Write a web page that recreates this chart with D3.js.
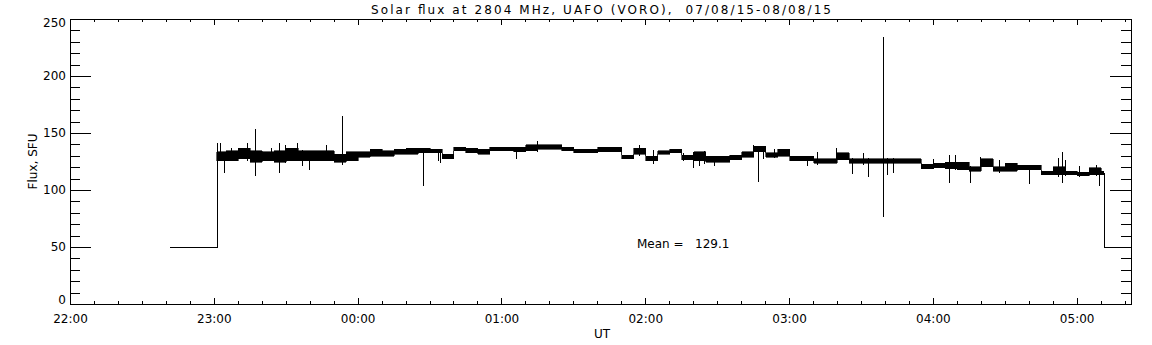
<!DOCTYPE html>
<html><head><meta charset="utf-8">
<script src="https://cdn.jsdelivr.net/npm/d3@7"></script>
<style>
html,body{margin:0;padding:0;background:#fff;}
svg{display:block;font-family:"DejaVu Sans",sans-serif;}
text{fill:#000;font-size:12px;white-space:pre;}
</style></head><body>
<svg id="chart" width="1152" height="345"></svg>
<script>
const titleText = "Solar flux at 2804 MHz, UAFO (VORO),  07/08/15-08/08/15";
const xLabel = "UT";
const yLabel = "Flux, SFU";
const xDomain = ["22:00", "05:22:40"];
const yDomain = [0, 250];
const xTickLabels = ["22:00","23:00","00:00","01:00","02:00","03:00","04:00","05:00"];
const yTickValues = [0, 50, 100, 150, 200, 250];
const meanValue = 129.1;

// flux envelope (upper / lower edge of the noisy trace), SFU
const times = ["23:01","23:05","23:10","23:15","23:20","23:25","23:30","23:35","23:40","23:45","23:50","23:55",
  "00:00","00:05","00:10","00:15","00:20","00:25","00:30","00:35","00:40","00:45","00:50","00:55",
  "01:00","01:05","01:10","01:15","01:20","01:25","01:30","01:35","01:40","01:45","01:50","01:55",
  "02:00","02:05","02:10","02:15","02:20","02:25","02:30","02:35","02:40","02:45","02:50","02:55",
  "03:00","03:05","03:10","03:15","03:20","03:25","03:30","03:35","03:40","03:45","03:50","03:55",
  "04:00","04:05","04:10","04:15","04:20","04:25","04:30","04:35","04:40","04:45","04:50","04:55",
  "05:00","05:05","05:10","05:11"];
const fluxHigh = [134,135,137,135,134,135,137,135,135,135,132,134,
  134,136,135,136,137,137,136,132,138,137,136,138,
  138,138,140,140,140,138,136,136,138,138,131,137,
  130,135,136,131,134,130,130,131,134,139,133,136,
  130,130,128,128,133,128,128,128,128,128,128,123,
  124,125,125,121,128,121,124,122,122,117,121,117,
  116,120,117,116];
const fluxLow = [126,126,128,125,126,125,126,126,126,126,125,126,
  129,130,130,132,132,133,133,128,135,133,132,135,
  135,134,135,136,136,135,133,133,134,134,128,132,
  126,132,133,127,126,125,125,127,129,134,129,130,
  126,126,124,124,127,124,124,124,124,124,124,119,
  120,119,118,117,121,117,117,118,118,114,114,114,
  113,114,114,114];

// individual spikes (vertical excursions), SFU
const spikeTimes = ["23:01:15","23:02:40","23:04:25","23:07:10","23:13:40","23:17:20","23:23:55","23:27:20","23:29:50",
  "23:34:30","23:37:00","23:39:50","23:46:50","23:53:40","00:27:05","00:33:30","00:34:30","01:06:00","01:14:40",
  "01:57:30","02:03:05","02:15:35","02:20:00","02:22:30","02:24:35","02:28:50","02:44:50","02:46:55","02:49:10",
  "02:53:50","03:07:40","03:11:35","03:19:30","03:26:10","03:30:40","03:32:50","03:39:00","03:40:40","03:43:30",
  "03:59:55","04:06:50","04:09:20","04:15:35","04:19:50","04:27:40","04:40:10","04:52:20","04:53:55","04:55:00",
  "05:01:05","05:08:00","05:09:25","05:11:20"];
const spikeLow = [50,126,116,127,126,113,126,116,125,126,122,118,126,123,104,126,125,128,134,
  131,124,126,120,122,124,122,132,108,128,129,122,123,125,115,123,112,77,114,116,
  119,107,118,107,120,116,106,112,107,113,112,113,104,50];
const spikeHigh = [142,142,134,138,142,154,138,142,140,142,136,135,140,166,133,135,133,139,144,
  140,136,133,134,133,135,131,140,134,138,137,130,134,138,129,133,129,235,129,129,
  128,132,132,122,130,127,123,129,134,127,122,123,118,116];

// flagged (no data) level before and after the observation
const gapTimes = ["22:41:25","23:01:15","05:11:20","05:22:40"];
const gapValues = [50, 50, 50, 50];

function parseUT(s){
  const p = s.split(":").map(Number);
  const h = p[0], m = p[1], sec = p[2] || 0;
  return new Date(Date.UTC(2015, 7, h >= 12 ? 7 : 8, h, m, sec));
}

const svg = d3.select("#chart");
const L = 70, R = 1131, T = 19, B = 304;
const x = d3.scaleUtc().domain(xDomain.map(parseUT)).range([L, R]);
const y = d3.scaleLinear().domain(yDomain).range([B, T]);

const g = svg.append("g").attr("transform", "translate(0.5,0.5)");

// gap segments
const gapPts = gapTimes.map((t, i) => [parseUT(t), gapValues[i]]);
const ln = d3.line().x(d => Math.round(x(d[0]))).y(d => Math.round(y(d[1])));
g.append("path").attr("d", ln(gapPts.slice(0, 2))).attr("fill", "none").attr("stroke", "#000").attr("shape-rendering", "crispEdges");
g.append("path").attr("d", ln(gapPts.slice(2, 4))).attr("fill", "none").attr("stroke", "#000").attr("shape-rendering", "crispEdges");

// envelope band
const band = times.map((t, i) => ({t: parseUT(t), hi: fluxHigh[i], lo: fluxLow[i]}));
const area = d3.area().x(d => x(d.t)).y0(d => y(d.lo)).y1(d => y(d.hi)).curve(d3.curveStepAfter);
g.append("path").attr("d", area(band)).attr("fill", "#000").attr("stroke", "#000").attr("stroke-width", 0.6)
  .attr("shape-rendering", "crispEdges");

// spikes
g.selectAll("line.spike").data(spikeTimes.map((t, i) => ({t: parseUT(t), lo: spikeLow[i], hi: spikeHigh[i]})))
  .enter().append("line").attr("class", "spike")
  .attr("x1", d => Math.round(x(d.t))).attr("x2", d => Math.round(x(d.t)))
  .attr("y1", d => Math.round(y(d.lo))).attr("y2", d => Math.round(y(d.hi)))
  .attr("stroke", "#000").attr("shape-rendering", "crispEdges");

// frame
svg.append("rect").attr("x", L + 0.5).attr("y", T + 0.5).attr("width", R - L).attr("height", B - T)
  .attr("fill", "none").attr("stroke", "#000").attr("shape-rendering", "crispEdges");

// axes
const majorX = xTickLabels.map(parseUT);
const minorX = d3.utcMinute.every(10).range(x.domain()[0], x.domain()[1]);
const minorY = d3.range(0, 251, 10);
function styleAxis(sel){
  sel.select(".domain").remove();
  sel.selectAll("line").attr("stroke", "#000").attr("shape-rendering", "crispEdges");
  sel.selectAll("text").attr("font-family", "DejaVu Sans, sans-serif").attr("font-size", 12).attr("fill", "#000");
}
svg.append("g").attr("transform", `translate(0,${B})`)
  .call(d3.axisBottom(x).tickValues(minorX).tickSize(-3).tickFormat("")).call(styleAxis);
svg.append("g").attr("transform", `translate(0,${B})`)
  .call(d3.axisBottom(x).tickValues(majorX).tickSize(-6).tickPadding(10).tickFormat(d3.utcFormat("%H:%M"))).call(styleAxis);
svg.append("g").attr("transform", `translate(0,${T})`)
  .call(d3.axisTop(x).tickValues(minorX).tickSize(-3).tickFormat("")).call(styleAxis);
svg.append("g").attr("transform", `translate(0,${T})`)
  .call(d3.axisTop(x).tickValues(majorX).tickSize(-6).tickFormat("")).call(styleAxis);
svg.append("g").attr("transform", `translate(${L},0)`)
  .call(d3.axisLeft(y).tickValues(minorY).tickSize(-10).tickFormat("")).call(styleAxis);
const yl = svg.append("g").attr("transform", `translate(${L},0)`)
  .call(d3.axisLeft(y).tickValues(yTickValues).tickSize(-21).tickPadding(4).tickFormat(d3.format("d"))).call(styleAxis);
yl.selectAll("text").attr("transform", d => d === yDomain[0] ? "translate(0,-4)" : d === yDomain[1] ? "translate(0,4)" : null);
svg.append("g").attr("transform", `translate(${R},0)`)
  .call(d3.axisRight(y).tickValues(minorY).tickSize(-10).tickFormat("")).call(styleAxis);
svg.append("g").attr("transform", `translate(${R},0)`)
  .call(d3.axisRight(y).tickValues(yTickValues).tickSize(-21).tickFormat("")).call(styleAxis);

// texts
svg.append("text").attr("x", (L + R) / 2 + 0.5).attr("y", 14).attr("text-anchor", "middle")
  .attr("xml:space", "preserve").attr("textLength", 460).attr("lengthAdjust", "spacing").text(titleText);
svg.append("text").attr("x", 602).attr("y", 338).attr("text-anchor", "middle").text(xLabel);
svg.append("text").attr("transform", `translate(37,${(T + B) / 2}) rotate(-90)`).attr("text-anchor", "middle").text(yLabel);
svg.append("text").attr("x", 637).attr("y", 248).attr("xml:space", "preserve")
  .text("Mean =   " + d3.format(".1f")(meanValue));
</script>
</body></html>
